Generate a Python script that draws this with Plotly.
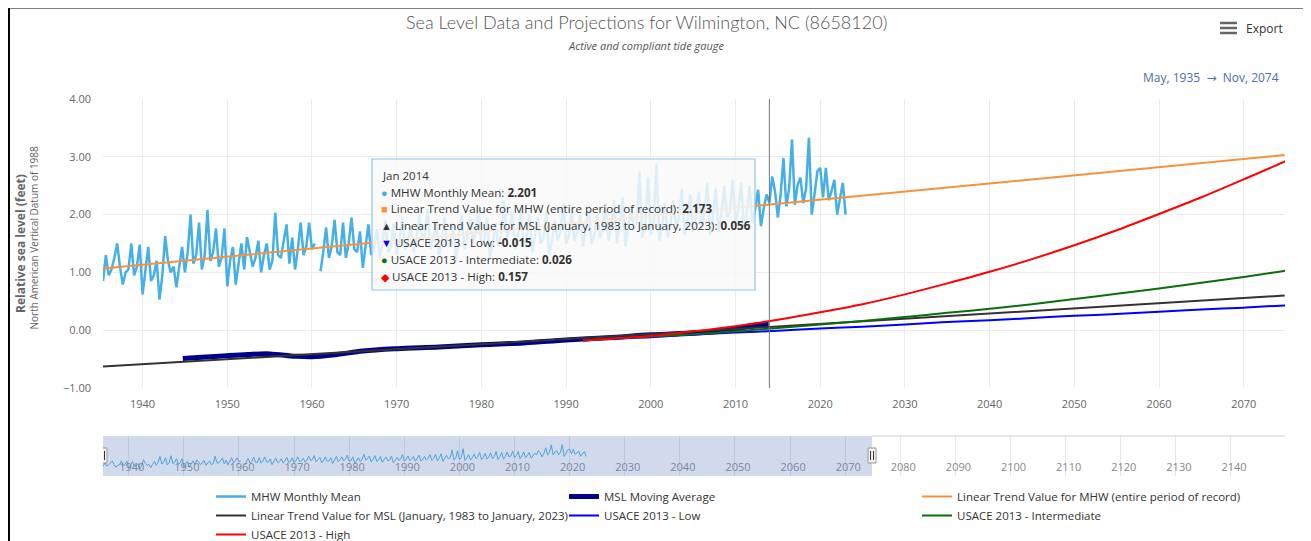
import pandas as pd
import plotly.graph_objects as go

# ---------------- data ----------------
# MHW monthly mean, sampled every 4 months (Jan / May / Sep) starting May 1935
mhw_start = "1935-05-01"
mhw_values = [
    0.85, 1.30,
    0.95, 1.05, 1.25,
    1.50, 1.10, 0.79,
    1.00, 1.05, 1.50,
    0.95, 1.10, 1.48,
    0.62, 1.05, 1.44,
    0.85, 0.95, 1.20,
    0.53, 0.95, 1.63,
    1.20, 1.00, 1.10,
    0.74, 1.10, 1.44,
    1.00, 1.35, 2.00,
    1.15, 1.30, 1.86,
    1.05, 1.30, 2.08,
    1.20, 1.35, 1.76,
    1.10, 1.25, 1.76,
    0.76, 1.20, 1.44,
    0.79, 1.10, 1.50,
    1.05, 1.61, 1.35,
    1.10, 1.25, 1.55,
    1.00, 1.30, 1.50,
    1.05, 1.20, 2.03,
    1.30, 1.25, 1.55,
    1.83, 1.15, 1.60,
    1.05, 1.40, 1.86,
    1.30, 1.45, 1.86,
    1.40, 1.50, None,
    1.02, 1.35, 1.78,
    1.25, 1.45, 1.91,
    1.35, 1.30, 1.86,
    1.25, 1.50, 1.95,
    1.40, 1.35, 1.71,
    1.08, 1.45, 1.83,
    1.30, 1.40, 1.75,
    1.25, 1.50, 1.90,
    1.35, 1.45, 1.85,
    1.30, 1.55, 1.95,
    1.40, 1.50, 1.80,
    1.35, 1.60, 2.00,
    1.55, 1.65, 2.10,
    1.40, 1.60, 1.90,
    1.30, 1.55, 1.95,
    1.45, 1.50, 1.85,
    1.20, 1.55, 2.00,
    1.40, 1.60, 1.95,
    1.50, 1.70, 2.15,
    1.45, 1.55, 1.95,
    1.25, 1.50, 1.85,
    1.45, 1.65, 2.25,
    1.60, 1.75, 2.05,
    1.40, 1.65, 2.10,
    1.45, 1.60, 2.00,
    1.35, 1.65, 1.95,
    1.50, 1.60, 2.05,
    1.30, 1.55, 1.90,
    1.55, 1.70, 2.20,
    1.50, 1.65, 2.05,
    1.55, 1.70, 2.00,
    1.45, 1.75, 2.15,
    1.50, 1.65, 2.00,
    1.60, 1.80, 2.20,
    1.55, 1.75, 2.25,
    1.50, 1.80, 2.30,
    1.45, 1.75, 2.10,
    1.75, 1.85, 2.74,
    1.60, 1.80, 2.65,
    1.65, 1.85, 2.88,
    1.55, 1.80, 2.20,
    1.60, 1.85, 2.25,
    1.75, 1.95, 2.45,
    1.65, 1.90, 2.35,
    1.70, 1.95, 2.40,
    1.75, 2.00, 2.55,
    1.65, 1.95, 2.45,
    1.70, 2.00, 2.50,
    1.95, 2.05, 2.60,
    1.85, 2.10, 2.55,
    1.75, 2.05, 2.50,
    1.85, 2.10, 2.43,
    1.80, 2.10, 2.35,
    2.201, 2.66, 2.40,
    1.95, 2.35, 2.98,
    2.14, 2.45, 3.30,
    2.17, 2.51, 2.64,
    2.20, 2.45, 3.33,
    2.00, 2.35, 2.75,
    2.81, 2.30, 2.81,
    2.25, 2.40, 2.60,
    2.00, 2.30, 2.55,
    2.00,
]

# MSL moving average
msl_dates = ["1944-10", "1947-01", "1950-01", "1952-06", "1955-01", "1958-01", "1960-01",
             "1963-01", "1966-01", "1970-01", "1975-01", "1980-01", "1985-01", "1990-01",
             "1995-01", "2000-01", "2005-01", "2008-01", "2010-01", "2012-01", "2013-12"]
msl_values = [-0.49, -0.47, -0.44, -0.42, -0.41, -0.45, -0.46,
              -0.42, -0.36, -0.32, -0.29, -0.25, -0.22, -0.17,
              -0.13, -0.08, -0.05, -0.02, 0.02, 0.08, 0.10]

# Linear trends
trend_dates = ["1935-05", "2014-01", "2074-11"]
mhw_trend_values = [1.066, 2.173, 3.03]
msl_trend_values = [-0.63, 0.056, 0.60]

# USACE 2013 projections
usace_dates = ["1992-01", "1995-01", "2000-01", "2005-01", "2010-01", "2015-01", "2020-01",
               "2025-01", "2030-01", "2035-01", "2040-01", "2045-01", "2050-01", "2055-01",
               "2060-01", "2065-01", "2070-01", "2075-01", "2080-01"]
usace_low = [-0.18, -0.15, -0.12, -0.08, -0.04, -0.01, 0.03, 0.06, 0.10, 0.14,
             0.17, 0.21, 0.25, 0.28, 0.32, 0.36, 0.39, 0.43, 0.47]
usace_int = [-0.18, -0.15, -0.11, -0.07, -0.02, 0.04, 0.10, 0.16, 0.23, 0.30,
             0.37, 0.45, 0.54, 0.63, 0.72, 0.82, 0.92, 1.03, 1.14]
usace_high = [-0.18, -0.15, -0.10, -0.02, 0.07, 0.18, 0.31, 0.45, 0.62, 0.81,
              1.01, 1.23, 1.47, 1.73, 2.01, 2.30, 2.61, 2.93, 3.27]

# tooltip (Jan 2014)
tooltip_date = "2014-01-01"
tooltip_label = "Jan 2014"
tooltip_names = ["MHW Monthly Mean",
                 "Linear Trend Value for MHW (entire period of record)",
                 "Linear Trend Value for MSL (January, 1983 to January, 2023)",
                 "USACE 2013 - Low",
                 "USACE 2013 - Intermediate",
                 "USACE 2013 - High"]
tooltip_values = ["2.201", "2.173", "0.056", "-0.015", "0.026", "0.157"]
tooltip_symbols = ["●", "■", "▲", "▼", "●", "◆"]

main_range = ["1935-05-01", "2074-11-15"]
nav_range = ["1935-05-01", "2149-10-20"]

# ---------------- styling ----------------
C_MHW = "#45b0e6"
C_MSL = "#00008b"
C_MHWT = "#f5923e"
C_MSLT = "#333333"
C_LOW = "#0000ff"
C_INT = "#0b6e0b"
C_HIGH = "#ff0000"
tooltip_colors = [C_MHW, C_MHWT, C_MSLT, C_LOW, C_INT, C_HIGH]

SW, SH = 1311, 541          # screen size
OFF = 8                     # page body margin
L, R, T, B = 103, 1285, 99, 476   # plot area in screen pixels


def px(x):
    return (x - L) / (R - L)


def py(y):
    return (B - y) / (B - T)


FONT = "Open Sans"
mhw_dates = pd.date_range(mhw_start, periods=len(mhw_values), freq="4MS")

fig = go.Figure()
fig.add_trace(go.Scatter(x=mhw_dates, y=mhw_values, mode="lines", name="MHW Monthly Mean",
                         line=dict(color=C_MHW, width=2.5), connectgaps=False))
fig.add_trace(go.Scatter(x=msl_dates, y=msl_values, mode="lines", name="MSL Moving Average",
                         line=dict(color=C_MSL, width=5, shape="spline")))
fig.add_trace(go.Scatter(x=trend_dates, y=mhw_trend_values, mode="lines",
                         name="Linear Trend Value for MHW (entire period of record)",
                         line=dict(color=C_MHWT, width=2)))
fig.add_trace(go.Scatter(x=trend_dates, y=msl_trend_values, mode="lines",
                         name="Linear Trend Value for MSL (January, 1983 to January, 2023)",
                         line=dict(color=C_MSLT, width=2)))
fig.add_trace(go.Scatter(x=usace_dates, y=usace_low, mode="lines", name="USACE 2013 - Low",
                         line=dict(color=C_LOW, width=2, shape="spline")))
fig.add_trace(go.Scatter(x=usace_dates, y=usace_int, mode="lines", name="USACE 2013 - Intermediate",
                         line=dict(color=C_INT, width=2, shape="spline")))
fig.add_trace(go.Scatter(x=usace_dates, y=usace_high, mode="lines", name="USACE 2013 - High",
                         line=dict(color=C_HIGH, width=2, shape="spline")))
# navigator series
fig.add_trace(go.Scatter(x=mhw_dates, y=mhw_values, mode="lines", showlegend=False,
                         line=dict(color=C_MHW, width=1), xaxis="x2", yaxis="y2",
                         hoverinfo="skip"))

tickfont = dict(family=FONT, size=11, color="#666666")
fig.update_layout(
    width=SW - OFF, height=SH - OFF,
    margin=dict(l=L - OFF, r=SW - R, t=T - OFF, b=SH - B, autoexpand=False),
    paper_bgcolor="white", plot_bgcolor="white",
    showlegend=True,
    xaxis=dict(type="date", range=main_range, tick0="1940-01-01", dtick="M120",
               tickformat="%Y", showgrid=True, gridcolor="#ebebeb", zeroline=False,
               showline=False, ticks="", tickfont=tickfont, anchor="y",
               ticklabelstandoff=8),
    yaxis=dict(domain=[py(388), 1], range=[-1, 4], dtick=1, tickformat=".2f",
               showgrid=True, gridcolor="#ebebeb", zeroline=False, ticks="",
               tickfont=tickfont, anchor="x", ticklabelstandoff=11),
    xaxis2=dict(type="date", range=nav_range, tick0="1940-01-01", dtick="M120",
                tickformat="%Y", showgrid=True, gridcolor="#e6e6e6", zeroline=False,
                ticks="", anchor="y2", ticklabelposition="inside", ticklabelshift=3,
                tickfont=dict(family=FONT, size=11, color="#888888")),
    yaxis2=dict(domain=[0, py(436)], range=[-0.2, 4.3], showgrid=False, zeroline=False,
                showticklabels=False, ticks="", anchor="x2"),
    legend=dict(orientation="h", x=px(211), xanchor="left", y=py(482), yanchor="top",
                font=dict(family=FONT, size=11.5, color="#333333"),
                entrywidth=308, entrywidthmode="pixels", bgcolor="rgba(0,0,0,0)",
                tracegroupgap=0),
)

shapes = []
# navigator mask and outline
shapes.append(dict(type="rect", xref="x2", yref="paper", x0=main_range[0], x1=main_range[1],
                   y0=0, y1=py(436), fillcolor="rgba(102,133,194,0.3)", line=dict(width=0),
                   layer="above"))
shapes.append(dict(type="line", xref="paper", yref="paper", x0=px(872), x1=1,
                   y0=py(436), y1=py(436), line=dict(color="#cccccc", width=1)))
for hx in main_range:
    shapes.append(dict(type="rect", xref="x2", yref="paper", xsizemode="pixel", xanchor=hx,
                       x0=-4, x1=4, y0=py(448), y1=py(463), fillcolor="#f2f2f2",
                       line=dict(color="#999999", width=1), layer="above"))
    for dx in (-1.5, 1.5):
        shapes.append(dict(type="line", xref="x2", yref="paper", xsizemode="pixel", xanchor=hx,
                           x0=dx, x1=dx, y0=py(451), y1=py(460),
                           line=dict(color="#333333", width=1), layer="above"))
# crosshair
shapes.append(dict(type="line", xref="x", yref="y", x0=tooltip_date, x1=tooltip_date,
                   y0=-1, y1=4, line=dict(color="#777777", width=1)))
# tooltip box
shapes.append(dict(type="rect", xref="paper", yref="paper", x0=px(372), x1=px(755),
                   y0=py(290), y1=py(159), fillcolor="rgba(249,249,249,0.85)",
                   line=dict(color="#8cc4ec", width=1.2), layer="above"))
# export icon
for yy in (23, 28, 33):
    shapes.append(dict(type="line", xref="paper", yref="paper", x0=px(1220), x1=px(1237),
                       y0=py(yy), y1=py(yy), line=dict(color="#666666", width=2.5)))
# page frame
shapes.append(dict(type="line", xref="paper", yref="paper", x0=px(8.5), x1=px(8.5),
                   y0=py(6), y1=py(545), line=dict(color="black", width=3)))
shapes.append(dict(type="line", xref="paper", yref="paper", x0=px(7), x1=px(1306),
                   y0=py(7), y1=py(7), line=dict(color="black", width=3)))
shapes.append(dict(type="line", xref="paper", yref="paper", x0=px(1304.5), x1=px(1304.5),
                   y0=py(6), y1=py(545), line=dict(color="black", width=3)))
shapes.append(dict(type="line", xref="paper", yref="paper", x0=px(1307.5), x1=px(1307.5),
                   y0=py(9), y1=py(545), line=dict(color="#aaaaaa", width=2)))
fig.update_layout(shapes=shapes)

ann = []
ann.append(dict(text="Sea Level Data and Projections for Wilmington, NC (8658120)",
                x=px(646), y=py(22), xref="paper", yref="paper", showarrow=False,
                xanchor="center", yanchor="middle",
                font=dict(family="Lato", size=18, color="#555555", weight=300)))
ann.append(dict(text="<i>Active and compliant tide gauge</i>",
                x=px(646), y=py(45), xref="paper", yref="paper", showarrow=False,
                xanchor="center", yanchor="middle",
                font=dict(family=FONT, size=11, color="#555555")))
ann.append(dict(text="Export", x=px(1244), y=py(28), xref="paper", yref="paper",
                showarrow=False, xanchor="left", yanchor="middle",
                font=dict(family=FONT, size=12, color="#333333")))
ann.append(dict(text="May, 1935  <span style='font-family:DejaVu Sans'>→</span>  Nov, 2074",
                x=px(1281), y=py(77), xref="paper",
                yref="paper", showarrow=False, xanchor="right", yanchor="middle",
                font=dict(family=FONT, size=12, color="#4b6ea8")))
ann.append(dict(text="<b>Relative sea level (feet)</b>", x=px(20), y=py(244), xref="paper",
                yref="paper", showarrow=False, textangle=-90, xanchor="center",
                yanchor="middle", font=dict(family=FONT, size=12, color="#666666")))
ann.append(dict(text="North American Vertical Datum of 1988", x=px(33.5), y=py(238),
                xref="paper", yref="paper", showarrow=False, textangle=-90,
                xanchor="center", yanchor="middle",
                font=dict(family=FONT, size=10, color="#666666")))
# tooltip text
ann.append(dict(text=tooltip_label, x=px(380), y=py(175), xref="paper", yref="paper",
                showarrow=False, xanchor="left", yanchor="middle",
                font=dict(family=FONT, size=11.5, color="#333333")))
for i, (nm, val, sym, col) in enumerate(zip(tooltip_names, tooltip_values,
                                            tooltip_symbols, tooltip_colors)):
    txt = (f"<span style='color:{col};font-size:11px'>{sym}</span> {nm}: <b>{val}</b>")
    ann.append(dict(text=txt, x=px(379), y=py(192 + 16.8 * i), xref="paper", yref="paper",
                    showarrow=False, xanchor="left", yanchor="middle",
                    font=dict(family=FONT, size=11.6, color="#333333")))
fig.update_layout(annotations=ann)

fig.write_html("out.html")
